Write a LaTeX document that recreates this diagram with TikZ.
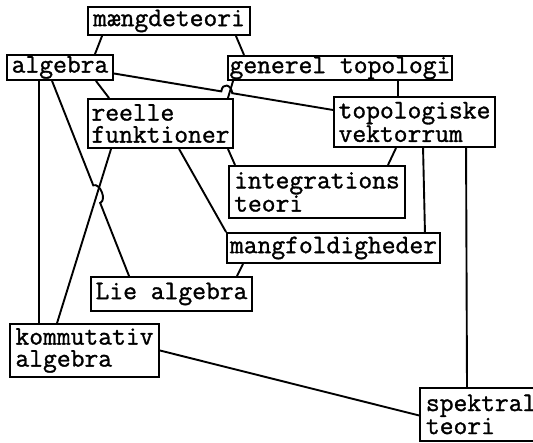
\documentclass[tikz,border=0pt]{standalone}
\usepackage{fontspec}
\newfontfamily\typer{Latin Modern Mono}[FakeBold=1.2]
\usetikzlibrary{calc}

\begin{document}
\begin{tikzpicture}[x=1pt,y=-1pt,line width=1.9pt,
    box/.style={shape=rectangle,draw=black,inner sep=0pt,align=left,
        font=\typer\fontsize{26.8}{22}\selectfont}]
    \useasboundingbox (0,0) rectangle (533,443);
    \clip (0,0) rectangle (533,443);
    \node[box,minimum width=162,minimum height=28] (0) at (169,21) {mængdeteori};
    \node[box,minimum width=106,minimum height=25] (1) at (60,67.5) {algebra};
    \node[box,minimum width=224,minimum height=24] (2) at (340,68) {generel topologi};
    \node[box,minimum width=145,minimum height=49] (3) at (160.5,123.5) {reelle\\funktioner};
    \node[box,minimum width=161,minimum height=50] (4) at (414.5,122) {topologiske\\vektorrum};
    \node[box,minimum width=176,minimum height=52] (5) at (317,192) {integrations\\teori};
    \node[box,minimum width=213,minimum height=30] (6) at (333.5,248) {mangfoldigheder};
    \node[box,minimum width=161,minimum height=34] (7) at (171.5,294) {Lie algebra};
    \node[box,minimum width=149,minimum height=53] (8) at (84.5,350.5) {kommutativ\\algebra};
    % runs off the right edge
    \node[box,anchor=north west,inner xsep=6,text width=150,minimum height=53] (9) at (419,387) {spektral\\teori};
    \draw ([xshift=15]0.south west) -- ([xshift=35]1.north);
    \draw ([xshift=-15]0.south east) -- ([xshift=17]2.north west);
    \draw ([xshift=-18]1.south east) -- ([xshift=22]3.north west);
    \draw ([xshift=33]1.south west) -- ([xshift=30]8.north west);
    \draw ([xshift=-6]3.north east) -- ([xshift=6]2.south west);
    \draw ([xshift=171]2.south west) -- ([xshift=65]4.north west);
    \draw ([xshift=-6]3.south east) -- ([xshift=7]5.north west);
    \draw ([xshift=92]3.south west) -- (6.north west);
    \draw ([xshift=24]3.south west) -- ([xshift=48]8.north west);
    \draw ([xshift=63]4.south west) -- ([xshift=-18]5.north east);
    \draw ([xshift=90]4.south west) -- ([xshift=-16]6.north east);
    \draw ([xshift=48]9.north west) -- ([xshift=133]4.south west);
    \draw ([xshift=17]6.south west) -- ([xshift=-16]7.north east);
    \draw (8.east) -- ([yshift=-1]9.west);
    % lines that jump over a crossing
    \coordinate (1r) at ([yshift=-6]1.east);
    \coordinate (4l) at ([yshift=12]4.west);
    \draw (1r) -- ($(1r)!0.49!(4l)$) .. controls +(1,-9) and +(-1,-9) .. ($(1r)!0.54!(4l)$) -- (4l);
    \coordinate (1b) at ([xshift=46]1.south west);
    \coordinate (7t) at ([xshift=39]7.north west);
    \draw (1b) -- ($(1b)!0.535!(7t)$) to[bend left=90] ($(1b)!0.625!(7t)$) -- (7t);
\end{tikzpicture}
\end{document}
